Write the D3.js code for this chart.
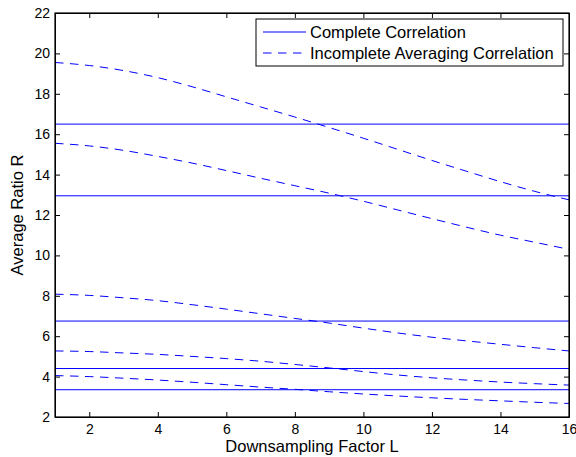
<!DOCTYPE html>
<html>
<head>
<meta charset="utf-8">
<script src="https://cdn.jsdelivr.net/npm/d3@7"></script>
<style>
  body { margin: 0; background: #fff; }
  text { font-family: "Liberation Sans", Arial, sans-serif; fill: #000; }
</style>
</head>
<body>
<svg id="chart" width="576" height="457"></svg>
<script>
// downsampling factors
var factors = [1, 2, 3, 4, 5, 6, 7, 8, 9, 10, 11, 12, 13, 14, 15, 16];

// complete correlation (constant levels)
var complete = [16.5, 12.95, 6.75, 4.4, 3.35];

// incomplete averaging correlation curves
var incomplete1 = [19.55, 19.4, 19.15, 18.8, 18.35, 17.85, 17.35, 16.85, 16.33, 15.8, 15.25, 14.7, 14.17, 13.65, 13.17, 12.75];
var incomplete2 = [15.55, 15.42, 15.2, 14.9, 14.57, 14.2, 13.82, 13.45, 13.08, 12.68, 12.25, 11.82, 11.4, 11.0, 10.65, 10.3];
var incomplete3 = [8.08, 8.02, 7.9, 7.76, 7.56, 7.34, 7.11, 6.88, 6.65, 6.4, 6.16, 5.95, 5.77, 5.6, 5.43, 5.27];
var incomplete4 = [5.27, 5.24, 5.17, 5.1, 5.0, 4.89, 4.76, 4.6, 4.43, 4.25, 4.08, 3.94, 3.83, 3.73, 3.65, 3.58];
var incomplete5 = [4.05, 4.0, 3.92, 3.83, 3.72, 3.6, 3.48, 3.37, 3.25, 3.14, 3.04, 2.95, 2.87, 2.8, 2.73, 2.67];

var xTicks = [2, 4, 6, 8, 10, 12, 14, 16];
var yTicks = [2, 4, 6, 8, 10, 12, 14, 16, 18, 20, 22];

var margin = {left: 55, right: 7, top: 13, bottom: 40};
var width = 576 - margin.left - margin.right;
var height = 457 - margin.top - margin.bottom;

var svg = d3.select('#chart');
var g = svg.append('g')
  .attr('transform', 'translate(' + margin.left + ',' + margin.top + ')');

var x = d3.scaleLinear().domain([1, 16]).range([0, width]);
var y = d3.scaleLinear().domain([2, 22]).range([height, 0]);

var blue = '#0000ff';

// solid horizontal lines
g.selectAll('.complete')
  .data(complete)
  .enter().append('line')
  .attr('class', 'complete')
  .attr('x1', x(1)).attr('x2', x(16))
  .attr('y1', function(d) { return y(d); })
  .attr('y2', function(d) { return y(d); })
  .attr('stroke', blue)
  .attr('stroke-width', 1);

var line = d3.line()
  .x(function(d, i) { return x(factors[i]); })
  .y(function(d) { return y(d); })
  .curve(d3.curveMonotoneX);

g.selectAll('.incomplete')
  .data([incomplete1, incomplete2, incomplete3, incomplete4, incomplete5])
  .enter().append('path')
  .attr('class', 'incomplete')
  .attr('d', line)
  .attr('fill', 'none')
  .attr('stroke', blue)
  .attr('stroke-width', 1)
  .attr('stroke-dasharray', '8.5,6.5');

// axes with inward ticks on all sides
var tick = 5;
g.append('g')
  .attr('transform', 'translate(0,' + height + ')')
  .call(d3.axisBottom(x).tickValues(xTicks).tickSizeInner(-tick).tickSizeOuter(0).tickPadding(7))
  .call(function(a) { a.selectAll('text').attr('font-size', 14); });
g.append('g')
  .call(d3.axisTop(x).tickValues(xTicks).tickSizeInner(-tick).tickSizeOuter(0).tickFormat(''));
g.append('g')
  .call(d3.axisLeft(y).tickValues(yTicks).tickSizeInner(-tick).tickSizeOuter(0).tickPadding(5))
  .call(function(a) { a.selectAll('text').attr('font-size', 14); });
g.append('g')
  .attr('transform', 'translate(' + width + ',0)')
  .call(d3.axisRight(y).tickValues(yTicks).tickSizeInner(-tick).tickSizeOuter(0).tickFormat(''));

g.selectAll('.domain').attr('stroke', '#000');
g.selectAll('.tick line').attr('stroke', '#000');

// frame
g.append('rect')
  .attr('width', width).attr('height', height)
  .attr('fill', 'none').attr('stroke', '#000').attr('stroke-width', 1.2);

// axis titles
svg.append('text')
  .attr('x', margin.left + width / 2)
  .attr('y', 452)
  .attr('text-anchor', 'middle')
  .attr('font-size', 16.5)
  .text('Downsampling Factor L');

svg.append('text')
  .attr('transform', 'translate(23,' + (margin.top + height / 2) + ') rotate(-90)')
  .attr('text-anchor', 'middle')
  .attr('font-size', 16.5)
  .text('Average Ratio R');

// legend
var legend = svg.append('g').attr('transform', 'translate(256,19)');
legend.append('rect')
  .attr('width', 307).attr('height', 47)
  .attr('fill', '#fff').attr('stroke', '#000').attr('stroke-width', 1);
var items = [
  {label: 'Complete Correlation', dash: null},
  {label: 'Incomplete Averaging Correlation', dash: '8.5,6.5'}
];
items.forEach(function(it, i) {
  var yy = 13 + i * 21;
  legend.append('line')
    .attr('x1', 7).attr('x2', 50)
    .attr('y1', yy).attr('y2', yy)
    .attr('stroke', blue)
    .attr('stroke-dasharray', it.dash);
  legend.append('text')
    .attr('x', 54).attr('y', yy + 6)
    .attr('font-size', 16.5)
    .text(it.label);
});
</script>
</body>
</html>
